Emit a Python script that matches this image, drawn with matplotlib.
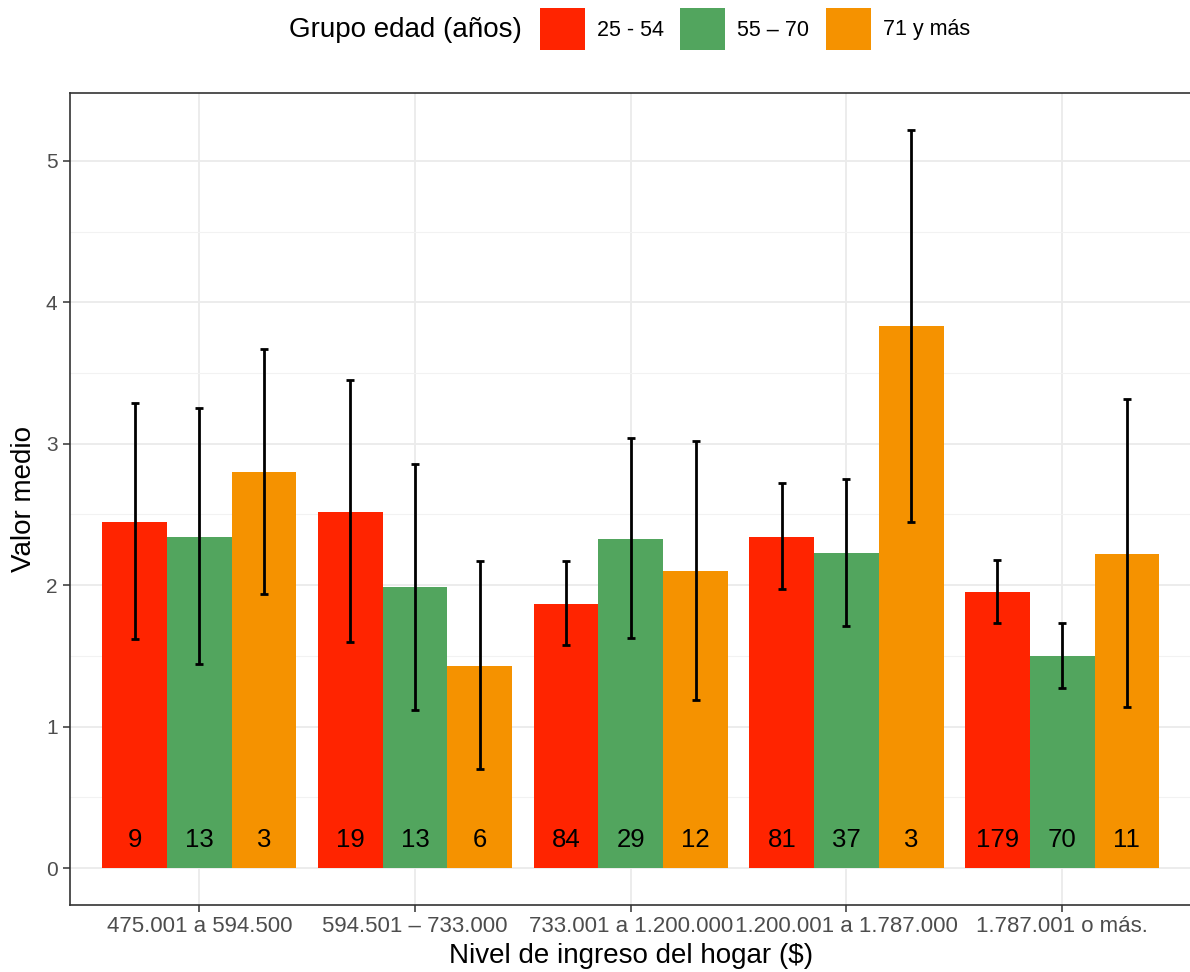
import matplotlib
matplotlib.use("Agg")
import matplotlib.pyplot as plt
from matplotlib.patches import Rectangle
from matplotlib.ticker import MultipleLocator
import numpy as np

plt.rcParams['font.family'] = ['Liberation Sans', 'DejaVu Sans']

categories = ["475.001 a 594.500", "594.501 \u2013 733.000", "733.001 a 1.200.000",
              "1.200.001 a 1.787.000", "1.787.001 o más."]
groups = ["25 - 54", "55 \u2013 70", "71 y más"]
colors = ["#FF2400", "#52A55E", "#F59200"]

means = {
    "25 - 54":        [2.45, 2.52, 1.87, 2.34, 1.95],
    "55 \u2013 70":   [2.34, 1.99, 2.33, 2.23, 1.50],
    "71 y más":       [2.80, 1.43, 2.10, 3.83, 2.22],
}
lower = {
    "25 - 54":        [1.62, 1.60, 1.58, 1.97, 1.73],
    "55 \u2013 70":   [1.44, 1.12, 1.63, 1.71, 1.27],
    "71 y más":       [1.94, 0.70, 1.19, 2.45, 1.14],
}
upper = {
    "25 - 54":        [3.29, 3.45, 2.17, 2.72, 2.18],
    "55 \u2013 70":   [3.25, 2.86, 3.04, 2.75, 1.73],
    "71 y más":       [3.67, 2.17, 3.02, 5.22, 3.32],
}
counts = {
    "25 - 54":        [9, 19, 84, 81, 179],
    "55 \u2013 70":   [13, 13, 29, 37, 70],
    "71 y más":       [3, 6, 12, 3, 11],
}

W, H = 1190, 972
fig = plt.figure(figsize=(W / 100, H / 100), dpi=100)
ax = fig.add_axes([70 / W, 1 - 905 / H, (1191.6 - 70) / W, (905 - 93) / H])

x = np.arange(1, len(categories) + 1)
bw = 0.9 / 3
for i, g in enumerate(groups):
    xs = x + (i - 1) * bw
    m = np.array(means[g])
    lo = np.array(lower[g])
    up = np.array(upper[g])
    ax.bar(xs, m, width=bw, color=colors[i], zorder=2, linewidth=0)
    ax.errorbar(xs, m, yerr=[m - lo, up - m], fmt='none', ecolor='black',
                elinewidth=2, capsize=3, capthick=2, zorder=3)
    for xi, c in zip(xs, counts[g]):
        ax.text(xi, 0.2, str(c), ha='center', va='center', fontsize=18.5,
                color='black', zorder=4)

ax.set_xlim(0.4, 5.6)
ax.set_ylim(-0.261, 5.48)
ax.set_xticks(x)
ax.set_xticklabels(categories)
ax.yaxis.set_major_locator(MultipleLocator(1))
ax.yaxis.set_minor_locator(MultipleLocator(0.5))
ax.grid(which='major', color='#EBEBEB', linewidth=1.3, zorder=0)
ax.grid(which='minor', axis='y', color='#F2F2F2', linewidth=0.8, zorder=0)
ax.set_axisbelow(True)
for s in ax.spines.values():
    s.set_color('#333333')
    s.set_linewidth(1.2)
ax.tick_params(axis='both', which='major', length=5, width=1.1, color='#333333',
               labelcolor='#4D4D4D', labelsize=16, pad=3)
ax.tick_params(axis='y', which='major', labelsize=15, pad=4)
ax.tick_params(axis='y', which='minor', length=0)
ax.set_xlabel("Nivel de ingreso del hogar ($)", fontsize=20, color='black', labelpad=4)
ax.set_ylabel("Valor medio", fontsize=20, color='black', labelpad=6)

# Legend at top
fig.text(289 / W, 1 - 30 / H, "Grupo edad (años)", fontsize=20, ha='left', va='center')
key_x = [540, 680, 826]
for i, g in enumerate(groups):
    fig.patches.append(Rectangle((key_x[i] / W, 1 - 50 / H), 45 / W, 42 / H,
                                 transform=fig.transFigure, facecolor=colors[i],
                                 edgecolor='none'))
    fig.text((key_x[i] + 57) / W, 1 - 30 / H, g, fontsize=15.5, ha='left', va='center')

fig.savefig("out.png", dpi=100)
